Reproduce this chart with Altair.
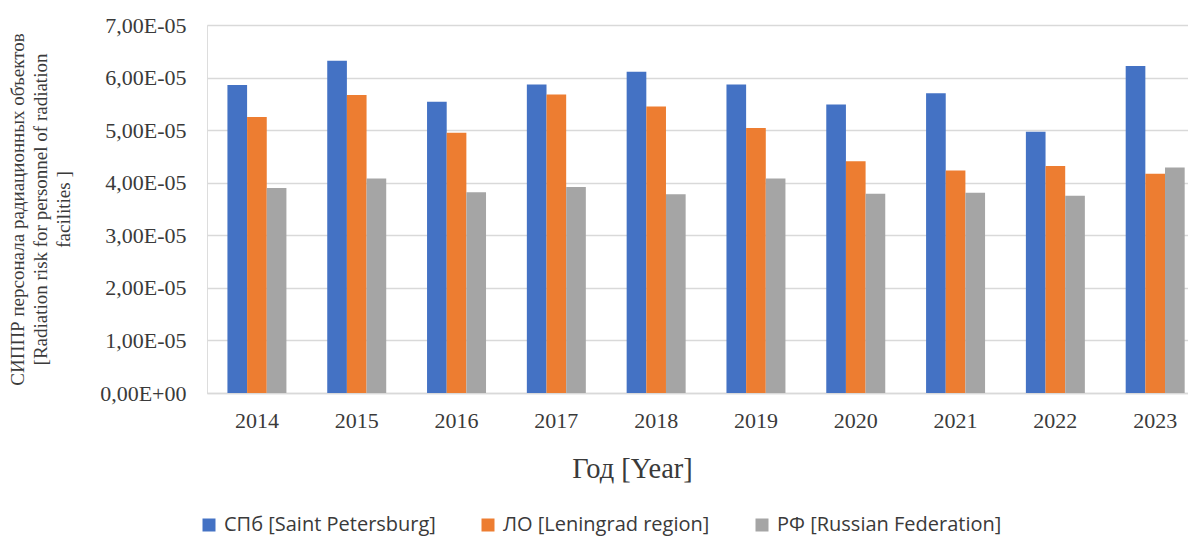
import altair as alt
import pandas as pd

years = ["2014", "2015", "2016", "2017", "2018", "2019", "2020", "2021", "2022", "2023"]
series = ["СПб [Saint Petersburg]", "ЛО [Leningrad region]", "РФ [Russian Federation]"]
spb = [5.86e-5, 6.32e-5, 5.54e-5, 5.87e-5, 6.11e-5, 5.87e-5, 5.49e-5, 5.70e-5, 4.97e-5, 6.22e-5]
lo = [5.25e-5, 5.67e-5, 4.95e-5, 5.68e-5, 5.45e-5, 5.04e-5, 4.41e-5, 4.23e-5, 4.32e-5, 4.17e-5]
rf = [3.90e-5, 4.08e-5, 3.82e-5, 3.92e-5, 3.78e-5, 4.08e-5, 3.79e-5, 3.81e-5, 3.75e-5, 4.29e-5]
colors = ["#4472C4", "#ED7D31", "#A5A5A5"]
y_ticks = [0, 1e-5, 2e-5, 3e-5, 4e-5, 5e-5, 6e-5, 7e-5]

rows = []
for s, vals in zip(series, [spb, lo, rf]):
    for yr, v in zip(years, vals):
        rows.append({"year": yr, "series": s, "value": v})
df = pd.DataFrame(rows)

serif = "Liberation Serif"
txt = "#3a3a3a"

chart = alt.Chart(df).mark_bar().encode(
    x=alt.X(
        "year:N",
        sort=years,
        scale=alt.Scale(paddingInner=0.409, paddingOuter=0.119, align=0.86),
        axis=alt.Axis(
            title="Год [Year]",
            labelAngle=0,
            labelFont=serif,
            labelFontSize=22,
            labelColor=txt,
            labelPadding=17,
            ticks=False,
            domainColor="#D9D9D9",
            domainWidth=1.5,
            titleFont=serif,
            titleFontSize=28.5,
            titleFontWeight="normal",
            titleColor=txt,
            titlePadding=23,
            titleX=425,
            titleAlign="center",
        ),
    ),
    xOffset=alt.XOffset("series:N", sort=series, scale=alt.Scale(paddingInner=0, paddingOuter=0)),
    y=alt.Y(
        "value:Q",
        scale=alt.Scale(domain=[0, 7e-5], nice=False),
        axis=alt.Axis(
            values=y_ticks,
            labelExpr="datum.value == 0 ? '0,00E+00' : replace(format(datum.value / 1e-5, '.2f'), '.', ',') + 'E-05'",
            labelFont=serif,
            labelFontSize=22,
            labelColor=txt,
            labelPadding=21,
            ticks=False,
            domain=False,
            gridColor="#D9D9D9",
            gridWidth=1.5,
            title=[
                "СИППР персонала радиационных объектов",
                "[Radiation risk  for personnel of radiation",
                "facilities ]",
            ],
            titleFont=serif,
            titleFontSize=19,
            titleFontWeight="normal",
            titleColor=txt,
            titleLineHeight=23,
            titleAngle=-90,
            titleAlign="center",
            titleBaseline="top",
            titleX=-199,
            titleY=184,
        ),
    ),
    color=alt.Color(
        "series:N",
        sort=series,
        scale=alt.Scale(domain=series, range=colors),
        legend=alt.Legend(
            title=None,
            orient="none",
            direction="horizontal",
            legendX=-8,
            legendY=490,
            symbolType="square",
            symbolSize=169,
            symbolStrokeWidth=0,
            labelFont="Open Sans",
            labelFontSize=20,
            labelColor=txt,
            labelOffset=5,
            labelLimit=0,
            columnPadding=42,
        ),
    ),
).properties(
    width=981,
    height=368,
    autosize=alt.AutoSizeParams(type="none"),
    padding={"left": 199, "top": 17, "right": 0, "bottom": 145},
).configure_view(stroke=None).configure(background="white")

chart.save("out.html", embed_options={"renderer": "svg", "actions": False})
